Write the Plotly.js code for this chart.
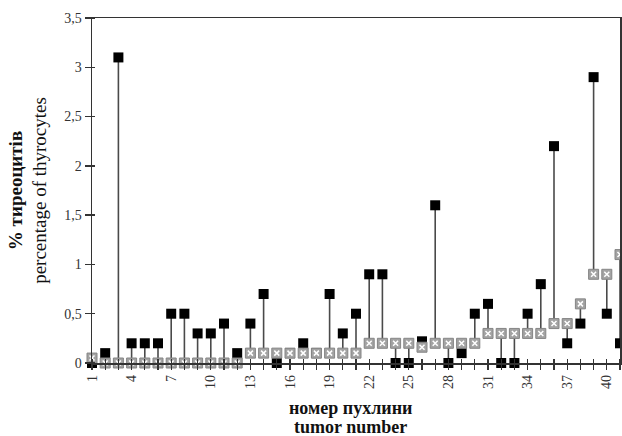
<!DOCTYPE html>
<html>
<head>
<meta charset="utf-8">
<script src="https://cdn.plot.ly/plotly-3.0.1.min.js"></script>
<style>html,body{margin:0;padding:0;background:#fff;}#chart{width:622px;height:436px;}</style>
</head>
<body>
<div id="chart"></div>
<script>
// tumor numbers
var tumors = [1,2,3,4,5,6,7,8,9,10,11,12,13,14,15,16,17,18,19,20,21,22,23,24,25,26,27,28,29,30,31,32,33,34,35,36,37,38,39,40,41];
// black squares
var seriesBlack = [0,0.1,3.1,0.2,0.2,0.2,0.5,0.5,0.3,0.3,0.4,0.1,0.4,0.7,0,0.1,0.2,0.1,0.7,0.3,0.5,0.9,0.9,0,0,0.22,1.6,0,0.1,0.5,0.6,0,0,0.5,0.8,2.2,0.2,0.4,2.9,0.5,0.2];
// gray squares
var seriesGray = [0.05,0,0,0,0,0,0,0,0,0,0,0,0.1,0.1,0.1,0.1,0.1,0.1,0.1,0.1,0.1,0.2,0.2,0.2,0.2,0.16,0.2,0.2,0.2,0.2,0.3,0.3,0.3,0.3,0.3,0.4,0.4,0.6,0.9,0.9,1.1];
// x tick labels
var xTickLabels = ["1","4","7","10","13","16","19","22","25","28","31","34","37","40"];
var yTickVals = [0,0.5,1,1.5,2,2.5,3,3.5];
var xTitleUk = "номер пухлини";
var xTitleEn = "tumor number";
var yTitle = "<b>% тиреоцитів</b><br>percentage of thyrocytes";

var segX = [], segY = [];
tumors.forEach(function(t, i){
  segX.push(t, t, null);
  segY.push(seriesBlack[i], seriesGray[i], null);
});
var tickText = tumors.map(function(t){ return xTickLabels.indexOf(String(t)) >= 0 ? String(t) : ""; });

var serif = "'Liberation Serif', serif";
var traces = [
  {x: segX, y: segY, mode: "lines", line: {color: "#4a4a4a", width: 1.6}, hoverinfo: "skip", cliponaxis: false},
  {x: tumors, y: seriesBlack, mode: "markers", marker: {symbol: "square", size: 10, color: "#000"}, cliponaxis: false},
  {x: tumors, y: seriesGray, mode: "markers", marker: {symbol: "square", size: 10, color: "#a3a3a3", line: {color: "#858585", width: 1}}, cliponaxis: false},
  {x: tumors, y: seriesGray, mode: "markers", marker: {symbol: "x-thin-open", size: 5, color: "#fff", line: {color: "#fff", width: 1.5}}, cliponaxis: false}
];
var layout = {
  width: 622, height: 436,
  margin: {l: 92, r: 2, t: 18, b: 73},
  paper_bgcolor: "#fff", plot_bgcolor: "#fff",
  showlegend: false,
  separators: ", ",
  font: {family: serif, color: "#222"},
  xaxis: {
    range: [1, 41], tickmode: "array", tickvals: tumors, ticktext: tickText,
    tickangle: -90, ticks: "outside", ticklen: 5, tickcolor: "#333", tickwidth: 1.3,
    showline: true, linecolor: "#333", linewidth: 1.5, mirror: true,
    showgrid: false, zeroline: false,
    tickfont: {family: serif, size: 14, color: "#333"},
    minor: {tickmode: "linear", tick0: 1, dtick: 1, ticks: "inside", ticklen: 4, tickcolor: "#333", tickwidth: 1.3, showgrid: false}
  },
  yaxis: {
    range: [0, 3.5], tickmode: "array", tickvals: yTickVals,
    ticks: "outside", ticklen: 6, tickcolor: "#333", tickwidth: 1.3,
    showline: true, linecolor: "#333", linewidth: 1.5, mirror: true,
    showgrid: false, zeroline: false,
    tickfont: {family: serif, size: 14, color: "#333"},
    minor: {tickmode: "linear", tick0: 0, dtick: 0.5, ticks: "inside", ticklen: 3, tickcolor: "#333", tickwidth: 1.3, showgrid: false},
    title: {text: yTitle, font: {family: serif, size: 19, color: "#111"}, standoff: 12}
  },
  annotations: [
    {text: "<b>" + xTitleUk + "</b>", xref: "paper", yref: "paper", x: 0.49, y: -0.1304, xanchor: "center", yanchor: "middle",
     showarrow: false, font: {family: serif, size: 18, color: "#111"}},
    {text: "<b>" + xTitleEn + "</b>", xref: "paper", yref: "paper", x: 0.49, y: -0.1855, xanchor: "center", yanchor: "middle",
     showarrow: false, font: {family: serif, size: 18, color: "#111"}}
  ]
};
Plotly.newPlot("chart", traces, layout, {staticPlot: true, displayModeBar: false});
</script>
</body>
</html>
